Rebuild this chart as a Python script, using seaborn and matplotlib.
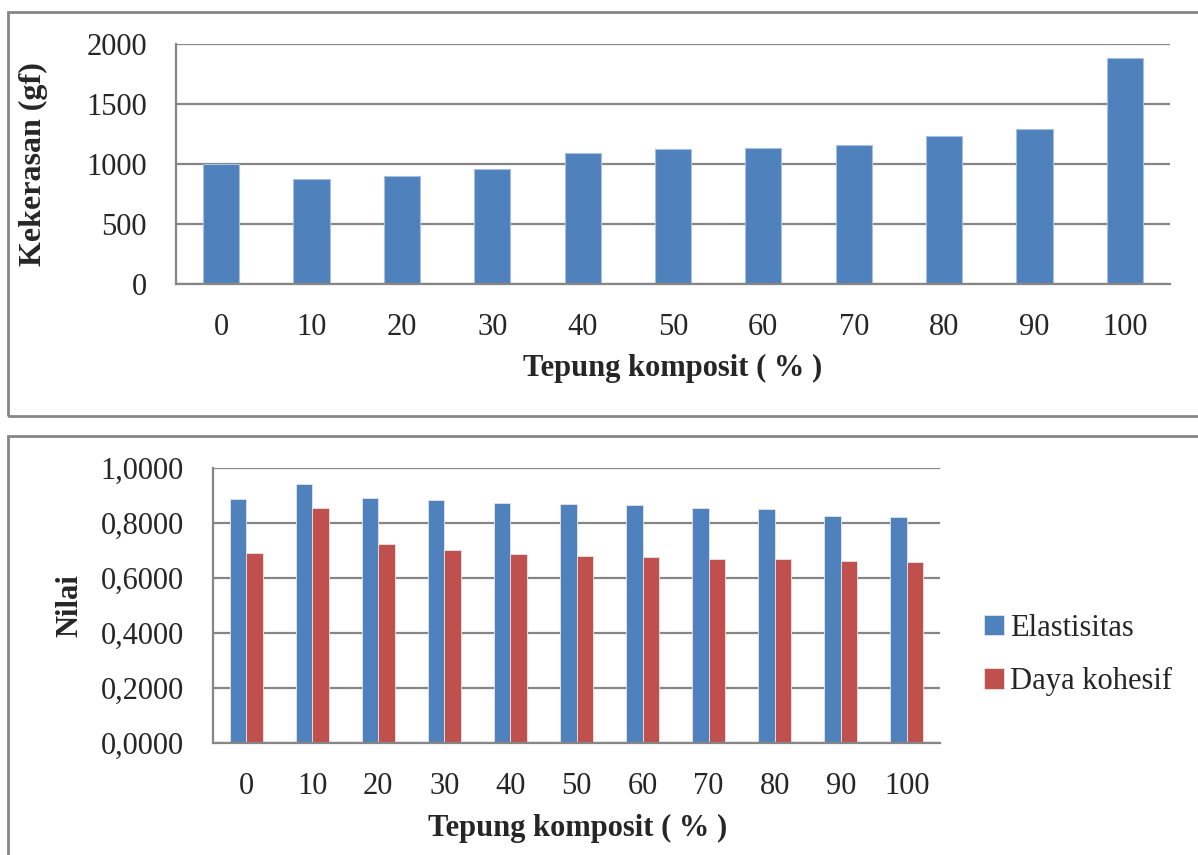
import pandas as pd
import matplotlib.pyplot as plt
import seaborn as sns
from matplotlib.patches import Rectangle
from matplotlib.ticker import FuncFormatter

# --------------------- Data ---------------------
komposit = ["0", "10", "20", "30", "40", "50", "60", "70", "80", "90", "100"]
kekerasan = [1003, 878, 903, 961, 1089, 1122, 1130, 1158, 1233, 1288, 1886]
elastisitas = [0.887, 0.943, 0.890, 0.882, 0.874, 0.870, 0.864, 0.853, 0.850, 0.825, 0.822]
daya_kohesif = [0.692, 0.856, 0.722, 0.701, 0.688, 0.681, 0.675, 0.668, 0.668, 0.662, 0.659]
series_names = ["Elastisitas", "Daya kohesif"]

BLUE = "#4F81BD"
RED = "#C0504D"
GRID = "#868686"
FS = 22

sns.set_style("white")
plt.rcParams['font.family'] = ['Liberation Serif', 'DejaVu Serif']

W, H = 1198, 855
fig = plt.figure(figsize=(W / 100, H / 100), dpi=100)

# chart frames (Excel-style boxes)
for (x0, y0, x1, y1) in [(8, 12, 1210, 416), (8, 436, 1210, 870)]:
    fig.patches.append(Rectangle((x0 / W, 1 - y1 / H), (x1 - x0) / W, (y1 - y0) / H,
                                 transform=fig.transFigure, fill=False,
                                 edgecolor=GRID, linewidth=2, clip_on=False))


def style_axes(ax):
    ax.set_axisbelow(True)
    ax.yaxis.grid(True, color=GRID, linewidth=1.6)
    ax.xaxis.grid(False)
    for side in ["top", "right"]:
        ax.spines[side].set_visible(False)
    for side in ["left", "bottom"]:
        ax.spines[side].set_color(GRID)
        ax.spines[side].set_linewidth(1.6)
    ax.tick_params(axis="both", length=0, labelsize=FS, pad=21)
    ax.set_xlim(-0.5, len(komposit) - 0.5)


# --------------------- Top: Kekerasan ---------------------
ax1 = fig.add_axes([176 / W, 1 - 284 / H, 994 / W, 240 / H])
sns.barplot(x=komposit, y=kekerasan, color=BLUE, saturation=1, width=0.4,
            edgecolor="#A7BFDE", linewidth=0.8, ax=ax1)
style_axes(ax1)
ax1.set_ylim(0, 2000)
ax1.set_yticks([0, 500, 1000, 1500, 2000])
ax1.set_xlabel("Tepung komposit ( % )", fontsize=FS, fontweight="bold")
ax1.set_ylabel("Kekerasan (gf)", fontsize=23, fontweight="bold", va="center")
ax1.xaxis.set_label_coords(0.5, -0.35)
ax1.yaxis.set_label_coords(-0.143, 0.5)
ax1.xaxis.label.set_va("center")

# --------------------- Bottom: Elastisitas & Daya kohesif ---------------------
df = pd.DataFrame({
    "komposit": komposit * 2,
    "nilai": elastisitas + daya_kohesif,
    "seri": [series_names[0]] * len(komposit) + [series_names[1]] * len(komposit),
})

ax2 = fig.add_axes([213 / W, 1 - 743 / H, 727 / W, 275 / H])
sns.barplot(data=df, x="komposit", y="nilai", hue="seri", order=komposit,
            palette=[BLUE, RED], saturation=1, width=0.5,
            edgecolor="#E6E6E6", linewidth=0.6, ax=ax2)
style_axes(ax2)
ax2.set_ylim(0, 1.0)
ax2.set_yticks([0, 0.2, 0.4, 0.6, 0.8, 1.0])
ax2.yaxis.set_major_formatter(FuncFormatter(lambda v, p: f"{v:.4f}".replace(".", ",")))
ax2.set_xlabel("Tepung komposit ( % )", fontsize=FS, fontweight="bold")
ax2.set_ylabel("Nilai", fontsize=FS, fontweight="bold", va="center")
ax2.xaxis.set_label_coords(0.502, -0.309)
ax2.yaxis.set_label_coords(-0.197, 0.5)
ax2.xaxis.label.set_va("center")

ax2.legend(loc="center left", bbox_to_anchor=(984 / W, 1 - 655 / H),
           bbox_transform=fig.transFigure, frameon=False, fontsize=FS,
           handlelength=0.65, handleheight=0.65, handletextpad=0.2,
           labelspacing=0.8, borderpad=0, borderaxespad=0)

fig.savefig("out.png", dpi=100)
